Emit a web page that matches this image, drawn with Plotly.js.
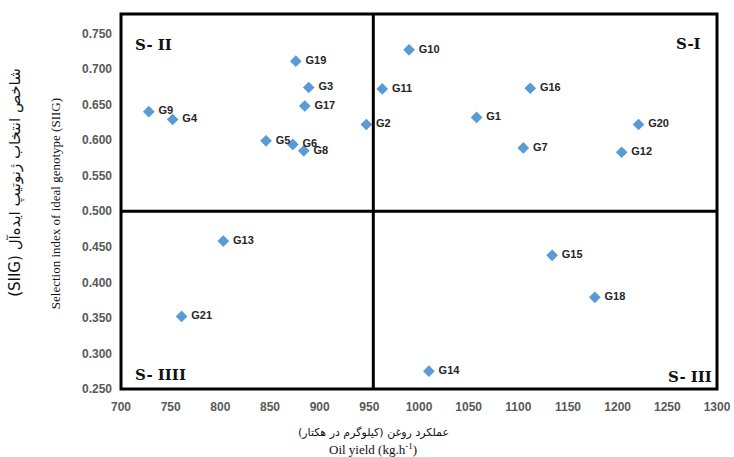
<!DOCTYPE html>
<html>
<head>
<meta charset="utf-8">
<script src="https://cdn.plot.ly/plotly-3.0.1.min.js"></script>
<style>html,body{margin:0;padding:0;background:#fff;}#chart{width:734px;height:457px;}</style>
</head>
<body>
<div id="chart"></div>
<script>
// ---- data ----
const genotypes = ['G1','G2','G3','G4','G5','G6','G7','G8','G9','G10','G11','G12','G13','G14','G15','G16','G17','G18','G19','G20','G21'];
const oilYield = [1058, 947, 889, 752, 846, 873, 1105, 884, 728, 990, 963, 1204, 803, 1010, 1134, 1112, 885, 1177, 876, 1221, 761];
const siig = [0.632, 0.622, 0.674, 0.629, 0.599, 0.594, 0.589, 0.585, 0.640, 0.727, 0.672, 0.583, 0.458, 0.275, 0.438, 0.673, 0.648, 0.379, 0.711, 0.622, 0.352];
const xTickVals = [700, 750, 800, 850, 900, 950, 1000, 1050, 1100, 1150, 1200, 1250, 1300];
const yTickVals = [0.25, 0.30, 0.35, 0.40, 0.45, 0.50, 0.55, 0.60, 0.65, 0.70, 0.75];
const xDivider = 954;
const yDivider = 0.5;
const quadrantLabels = ['S- II', 'S-I', 'S- IIII', 'S- III'];
const xTitleFa = 'عملکرد روغن (کیلوگرم در هکتار)';
const xTitleEn = 'Oil yield (kg.h<sup>-1</sup>)';
const yTitleFa = 'شاخص انتخاب ژنوتیپ ایده‌آل (SIIG)';
const yTitleEn = 'Selection index of ideal genotype (SIIG)';

const rtl = s => '\u202B' + s + '\u202C';

const trace = {
  type: 'scatter',
  mode: 'markers+text',
  x: oilYield,
  y: siig,
  text: genotypes.map(g => '\u00a0' + g),
  textposition: 'middle right',
  textfont: {family: 'Liberation Sans, Arial, sans-serif', size: 11, color: '#262626', weight: 'bold'},
  marker: {symbol: 'diamond', size: 9, color: '#5B9BD5'},
  hoverinfo: 'none',
  cliponaxis: false
};

const tickFont = {family: 'Liberation Sans, Arial, sans-serif', size: 12, color: '#595959', weight: 'bold'};
const qFont = {family: 'DejaVu Serif, Liberation Serif, serif', size: 15, color: '#111', weight: 'bold'};
const titleFont = {family: 'Liberation Serif, Times New Roman, serif', size: 13, color: '#111'};
const faFontX = {family: 'DejaVu Sans, sans-serif', size: 11, color: '#111'};
const faFontY = {family: 'DejaVu Sans, sans-serif', size: 15, color: '#111'};

const layout = {
  width: 734, height: 457,
  margin: {l: 121, r: 17, t: 14, b: 68},
  paper_bgcolor: '#fff', plot_bgcolor: '#fff',
  showlegend: false,
  xaxis: {
    range: [700, 1300], tickvals: xTickVals, ticktext: xTickVals.map(String),
    showgrid: false, zeroline: false, showline: false, ticks: '',
    tickfont: tickFont, ticklabelstandoff: 9, fixedrange: true
  },
  yaxis: {
    range: [0.25, 0.7774], tickvals: yTickVals, ticktext: yTickVals.map(v => v.toFixed(3)),
    showgrid: false, zeroline: false, showline: false, ticks: '',
    tickfont: tickFont, ticklabelstandoff: 8, fixedrange: true
  },
  shapes: [
    {type: 'rect', xref: 'paper', yref: 'paper', x0: 0, x1: 1, y0: 0, y1: 1, line: {color: '#000', width: 3}},
    {type: 'line', xref: 'x', yref: 'paper', x0: xDivider, x1: xDivider, y0: 0, y1: 1, line: {color: '#000', width: 3}},
    {type: 'line', xref: 'paper', yref: 'y', x0: 0, x1: 1, y0: yDivider, y1: yDivider, line: {color: '#000', width: 3}}
  ],
  annotations: [
    {text: quadrantLabels[0], xref: 'paper', yref: 'paper', x: 0.020, y: 0.918, xanchor: 'left', yanchor: 'middle', showarrow: false, font: qFont},
    {text: quadrantLabels[1], xref: 'paper', yref: 'paper', x: 0.9765, y: 0.92, xanchor: 'right', yanchor: 'middle', showarrow: false, font: qFont},
    {text: quadrantLabels[2], xref: 'paper', yref: 'paper', x: 0.020, y: 0.037, xanchor: 'left', yanchor: 'middle', showarrow: false, font: qFont},
    {text: quadrantLabels[3], xref: 'paper', yref: 'paper', x: 0.995, y: 0.032, xanchor: 'right', yanchor: 'middle', showarrow: false, font: qFont},
    {text: rtl(xTitleFa), xref: 'paper', yref: 'paper', x: 0.423, y: -0.1147, xanchor: 'center', yanchor: 'middle', showarrow: false, font: faFontX},
    {text: xTitleEn, xref: 'paper', yref: 'paper', x: 0.423, y: -0.16, xanchor: 'center', yanchor: 'middle', showarrow: false, font: titleFont},
    {text: yTitleEn, xref: 'paper', yref: 'paper', x: -0.1107, y: 0.493, xanchor: 'center', yanchor: 'middle', textangle: -90, showarrow: false, font: titleFont},
    {text: rtl(yTitleFa), xref: 'paper', yref: 'paper', x: -0.176, y: 0.55, xanchor: 'center', yanchor: 'middle', textangle: -90, showarrow: false, font: faFontY}
  ]
};

Plotly.newPlot('chart', [trace], layout, {staticPlot: true, displayModeBar: false});
</script>
</body>
</html>
